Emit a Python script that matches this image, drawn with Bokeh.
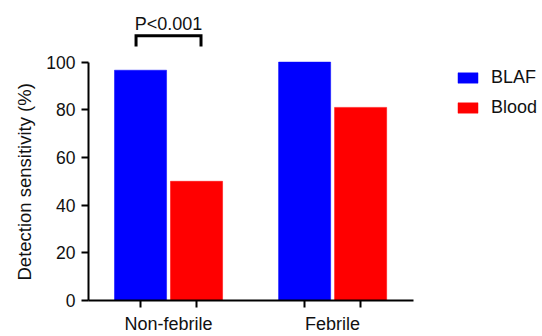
import math
from bokeh.plotting import figure
from bokeh.models import (FixedTicker, Title, Legend, LegendItem, Range1d, ColumnDataSource)
from bokeh.core.properties import value
from bokeh.embed import file_html
from bokeh.resources import INLINE

# ---- data ----
groups = ["Non-febrile", "Febrile"]
series = ["BLAF", "Blood"]
blaf = [96.6, 100.0]
blood = [50.0, 81.0]
y_ticks = [0, 20, 40, 60, 80, 100]
p_label = "P<0.001"
y_title = "Detection sensitivity (%)"

# ---- layout constants ----
FONT = "Liberation Sans"
group_x = [0.5, 3.43]
dodge = 0.5
bar_w = 0.93
x_start, x_end = -0.929, 7.178
y_top = 125.83

blaf_x = [g - dodge for g in group_x]
blood_x = [g + dodge for g in group_x]

p = figure(width=542, height=336, output_backend="svg", toolbar_location=None,
           title=None,
           x_range=Range1d(x_start, x_end), y_range=Range1d(0, y_top),
           min_border_left=88, min_border_right=0, min_border_top=0, min_border_bottom=34)
p.outline_line_color = None
p.grid.visible = False
p.background_fill_color = "white"
p.border_fill_color = "white"

src_a = ColumnDataSource(dict(x=blaf_x, top=blaf))
src_b = ColumnDataSource(dict(x=blood_x, top=blood))
r_a = p.vbar(x="x", top="top", bottom=0, width=bar_w, source=src_a,
             fill_color="#0000FF", line_color="#0000FF", line_width=0.5)
r_b = p.vbar(x="x", top="top", bottom=0, width=bar_w, source=src_b,
             fill_color="#FF0000", line_color="#FF0000", line_width=0.5)

# significance bracket over first group
bx0 = blaf_x[0] - 0.08
bx1 = blood_x[0] + 0.08
by_top, by_leg = 111.0, 106.5
p.line(x=[bx0, bx0, bx1, bx1], y=[by_leg, by_top, by_top, by_leg],
       line_color="black", line_width=3, line_join="miter")
p.text(x=[group_x[0]], y=[116.0], text=[p_label], text_align="center",
       text_baseline="alphabetic", text_font=value(FONT), text_font_size="18px",
       text_color="#111111")

# axes
xa = p.xaxis[0]
xa.ticker = FixedTicker(ticks=group_x, minor_ticks=blaf_x + blood_x)
xa.major_label_overrides = {group_x[i]: groups[i] for i in range(len(groups))}
xa.bounds = (x_start, 4.875)
xa.major_tick_out = 0
xa.major_tick_in = 0
xa.minor_tick_out = 7
xa.minor_tick_in = 0
xa.minor_tick_line_width = 2
xa.minor_tick_line_color = "black"
xa.axis_line_width = 2
xa.axis_line_color = "black"
xa.major_label_standoff = 6
xa.major_label_text_font = FONT
xa.major_label_text_font_size = "18px"
xa.major_label_text_color = "#111111"

ya = p.yaxis[0]
ya.ticker = FixedTicker(ticks=y_ticks, minor_ticks=[])
ya.bounds = (0, 100)
ya.major_tick_out = 7
ya.major_tick_in = 0
ya.major_tick_line_width = 2
ya.axis_line_width = 2
ya.axis_line_color = "black"
ya.major_label_standoff = 6
ya.major_label_text_font = FONT
ya.major_label_text_font_size = "17.5px"
ya.major_label_text_color = "#111111"

ytitle = Title(text=y_title, align="left", offset=20, standoff=18,
               text_font=FONT, text_font_size="18.5px", text_font_style="normal",
               text_color="#111111")
p.add_layout(ytitle, "left")

legend = Legend(items=[LegendItem(label=series[0], renderers=[r_a]),
                       LegendItem(label=series[1], renderers=[r_b])],
                location=(367, 182), orientation="vertical")
legend.border_line_color = None
legend.background_fill_alpha = 0
legend.padding = 0
legend.margin = 0
legend.spacing = 9
legend.glyph_width = 25
legend.glyph_height = 13
legend.label_height = 20
legend.label_standoff = 11
legend.label_text_font = FONT
legend.label_text_font_size = "18px"
legend.label_text_color = "#111111"
p.add_layout(legend)

open("out.html", "w").write(file_html(p, INLINE))
